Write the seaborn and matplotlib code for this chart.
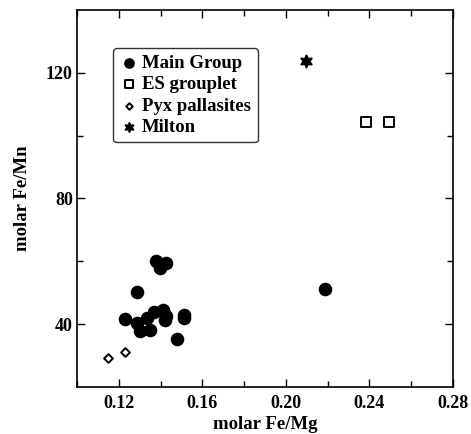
import pandas as pd
import seaborn as sns
import matplotlib
import matplotlib.pyplot as plt
matplotlib.use('Agg')

# Main Group pallasites
main_femg = [0.1380, 0.1427, 0.1398, 0.1289, 0.1229, 0.1289, 0.1300, 0.1348,
             0.1336, 0.1368, 0.1411, 0.1427, 0.1419, 0.1510, 0.1510, 0.1478, 0.2186]
main_femn = [60.1, 59.4, 58.0, 50.3, 41.7, 40.4, 37.7, 38.2,
             42.0, 43.8, 44.6, 42.7, 41.2, 43.0, 42.0, 35.3, 51.3]
# ES grouplet
es_femg = [0.2384, 0.2495]
es_femn = [104.4, 104.4]
# Pyroxene pallasites
pyx_femg = [0.1149, 0.1229]
pyx_femn = [29.2, 31.0]
# Milton
milton_femg = [0.2097]
milton_femn = [123.8]

sns.set_style('ticks')
plt.rcParams['font.family'] = ['Liberation Serif', 'DejaVu Serif']
plt.rcParams['font.weight'] = 'bold'
plt.rcParams['text.color'] = 'black'
plt.rcParams['axes.labelcolor'] = 'black'
plt.rcParams['xtick.color'] = 'black'
plt.rcParams['ytick.color'] = 'black'
plt.rcParams['axes.edgecolor'] = 'black'

fig = plt.figure(figsize=(4.71, 4.34), dpi=100)
ax = fig.add_axes([0.1635, 0.1083, 0.7983, 0.8687])

groups = [
    ('Main Group', main_femg, main_femn, 'o', 'black', 70),
    ('ES grouplet', es_femg, es_femn, 's', 'white', 55),
    ('Pyx pallasites', pyx_femg, pyx_femn, 'D', 'white', 20),
    ('Milton', milton_femg, milton_femn, (6, 1, 0), 'black', 75),
]
for name, xs, ys, m, fc, s in groups:
    df = pd.DataFrame({'femg': xs, 'femn': ys})
    sns.scatterplot(data=df, x='femg', y='femn', marker=m, s=s, color=fc,
                    edgecolor='black', linewidth=1.4, label=name, ax=ax)

ax.set_xlim(0.10, 0.28)
ax.set_ylim(20, 140)
ax.set_xticks([0.12, 0.16, 0.20, 0.24, 0.28])
ax.set_xticks([0.10, 0.14, 0.18, 0.22, 0.26], minor=True)
ax.set_xticklabels(['0.12', '0.16', '0.20', '0.24', '0.28'])
ax.set_yticks([40, 80, 120])
ax.set_yticks([60, 100], minor=True)
ax.tick_params(which='both', direction='in', top=True, right=True,
               labelsize=13, width=1)
ax.tick_params(axis='x', pad=6)
ax.tick_params(axis='y', pad=3)
ax.tick_params(which='major', length=6)
ax.tick_params(which='minor', length=4)
for sp in ax.spines.values():
    sp.set_linewidth(1.2)

ax.set_xlabel('molar Fe/Mg', fontsize=13.5, fontweight='bold', labelpad=3)
ax.set_ylabel('molar Fe/Mn', fontsize=13.5, fontweight='bold', labelpad=11)

leg = ax.legend(loc='upper left', bbox_to_anchor=(0.096, 0.898), fontsize=13.5,
                handletextpad=0.2, handlelength=1.0, borderpad=0.35,
                labelspacing=0.22, borderaxespad=0, markerscale=0.75,
                handleheight=0.7, frameon=True, fancybox=True)
leg.get_frame().set_edgecolor('black')
leg.get_frame().set_linewidth(1)
for t in leg.get_texts():
    t.set_fontweight('bold')

plt.savefig('out.png', dpi=100)
plt.close()
